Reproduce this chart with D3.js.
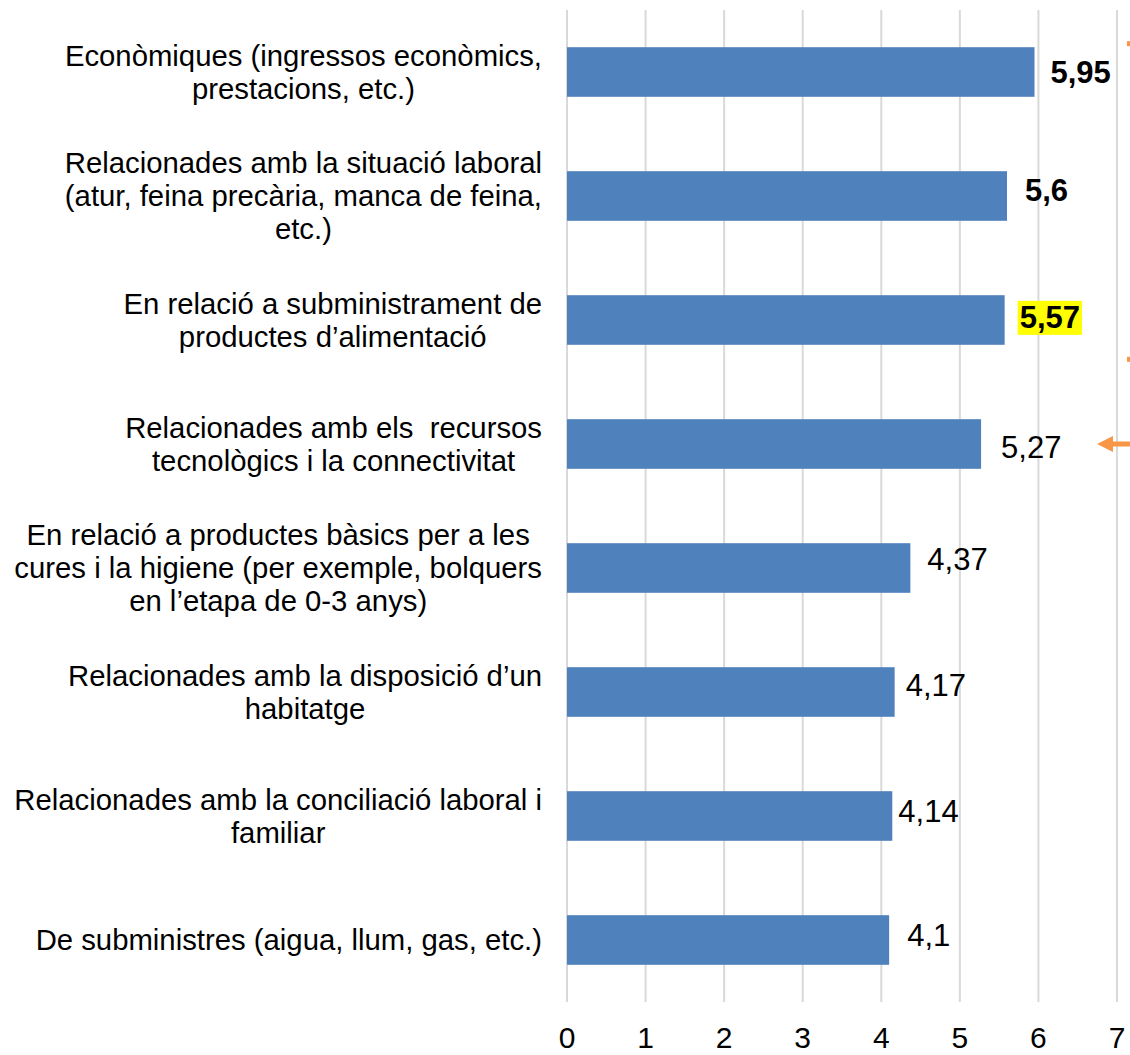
<!doctype html>
<html lang="ca">
<head>
  <meta charset="utf-8">
  <title>Necessitats</title>
  <script src="https://cdnjs.cloudflare.com/ajax/libs/d3/7.8.5/d3.min.js"></script>
  <style>
    body { margin: 0; background: #fff; overflow: hidden; }
    text { font-family: "Liberation Sans", Arial, sans-serif; fill: #000; white-space: pre; }
  </style>
</head>
<body>
<script>
  // categories (already wrapped the way the original shows them)
  const categories = [
    ["Econòmiques (ingressos econòmics,", "prestacions, etc.)"],
    ["Relacionades amb la situació laboral", "(atur, feina precària, manca de feina,", "etc.)"],
    ["En relació a subministrament de", "productes d’alimentació"],
    ["Relacionades amb els  recursos", "tecnològics i la connectivitat"],
    ["En relació a productes bàsics per a les", "cures i la higiene (per exemple, bolquers", "en l’etapa de 0-3 anys)"],
    ["Relacionades amb la disposició d’un", "habitatge"],
    ["Relacionades amb la conciliació laboral i", "familiar"],
    ["De subministres (aigua, llum, gas, etc.)"]
  ]
  const values = [5.95, 5.6, 5.57, 5.27, 4.37, 4.17, 4.14, 4.1]
  const boldLabels = [true, true, true, false, false, false, false, false]
  const highlighted = [false, false, true, false, false, false, false, false]
  const xTicks = [0, 1, 2, 3, 4, 5, 6, 7]

  // the data labels were dragged by hand in the original, small nudges [dx, dy]
  const labelNudge = [[0, 0], [2, -6], [-1, -3], [4, 3], [1, -9], [-5, -7], [-10, -5], [2, -5]]

  const W = 1130, H = 1055
  const svg = d3.select("body").append("svg")
    .attr("width", W).attr("height", H)

  let x = d3.scaleLinear().domain([0, 7]).range([567, 1117])
  let y = d3.scaleBand()
    .domain(d3.range(categories.length))
    .range([10, 1002])
    .paddingInner(0.6)
    .paddingOuter(0.3)

  // gridlines
  svg.append("g").selectAll("line")
    .data(xTicks).enter().append("line")
    .attr("x1", d => x(d)).attr("x2", d => x(d))
    .attr("y1", 10).attr("y2", 1002)
    .attr("stroke", "#d9d9d9").attr("stroke-width", 2)

  // tick labels
  svg.append("g").selectAll("text")
    .data(xTicks).enter().append("text")
    .attr("x", d => x(d)).attr("y", 1048)
    .attr("text-anchor", "middle")
    .style("font-size", "30px")
    .text(d => d)

  // bars
  svg.append("g").selectAll("rect")
    .data(values).enter().append("rect")
    .attr("x", x(0))
    .attr("y", (d, i) => y(i))
    .attr("width", d => x(d) - x(0))
    .attr("height", y.bandwidth())
    .attr("fill", "#4f81bd")

  // category labels: block right-aligned, lines centred within it
  const lineH = 33
  const labelRight = 542
  categories.forEach((lines, i) => {
    let g = svg.append("g")
    let cy = y(i) + y.bandwidth() / 2
    let top = cy - (lines.length - 1) * lineH / 2
    let texts = lines.map((ln, k) => g.append("text")
      .attr("y", top + k * lineH)
      .attr("dy", "0.35em")
      .attr("text-anchor", "middle")
      .style("font-size", "29.3px")
      .text(ln))
    let maxW = d3.max(texts, t => t.node().getComputedTextLength())
    texts.forEach(t => t.attr("x", labelRight - maxW / 2))
  })

  // value labels
  const fmt = v => String(v).replace(".", ",")
  values.forEach((v, i) => {
    let cy = y(i) + y.bandwidth() / 2
    let t = svg.append("text")
      .attr("x", x(v) + 16 + labelNudge[i][0])
      .attr("y", cy + labelNudge[i][1])
      .attr("dy", "0.35em")
      .style("font-size", "31px")
      .style("font-weight", boldLabels[i] ? "bold" : "normal")
      .text(fmt(v))
    if (highlighted[i]) {
      let b = t.node().getBBox()
      svg.insert("rect", () => t.node())
        .attr("x", b.x - 2).attr("y", b.y + 1)
        .attr("width", b.width + 4).attr("height", b.height - 1)
        .attr("fill", "#ffff00")
    }
  })

  // orange bits of a cropped annotation at the right edge
  const orange = "#f79646"
  svg.append("rect").attr("x", 1127).attr("y", y(0) - 6).attr("width", 3).attr("height", 5).attr("fill", orange)
  svg.append("rect").attr("x", 1127).attr("y", y(2) + y.bandwidth() + 12).attr("width", 3).attr("height", 5).attr("fill", orange)
  let ay = y(3) + y.bandwidth() / 2
  svg.append("path")
    .attr("d", `M1097,${ay} L1113,${ay - 8} L1113,${ay - 2.5} L1130,${ay - 2.5} L1130,${ay + 2.5} L1113,${ay + 2.5} L1113,${ay + 8} Z`)
    .attr("fill", orange)
</script>
</body>
</html>
